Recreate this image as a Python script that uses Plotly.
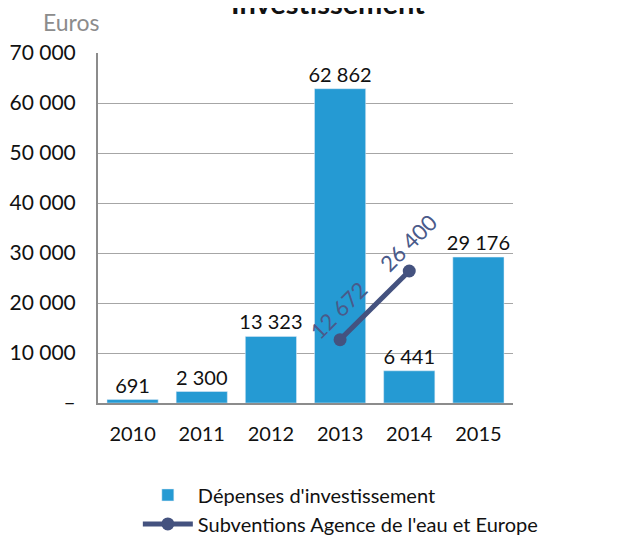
import plotly.graph_objects as go

years = [2010, 2011, 2012, 2013, 2014, 2015]
depenses = [691, 2300, 13323, 62862, 6441, 29176]
subv_years = [2013, 2014]
subventions = [12672, 26400]
ytick_vals = [0, 10000, 20000, 30000, 40000, 50000, 60000, 70000]
ytick_text = ["–", "10 000", "20 000", "30 000", "40 000", "50 000", "60 000", "70 000"]

FONT = "Lato"
BAR = "#259ad3"
LINE = "#44527f"


def fr(v):
    # French thousands separator
    return f"{v:,}".replace(",", " ")


fig = go.Figure()
fig.add_trace(go.Bar(
    x=years, y=depenses, name="Dépenses d'investissement", width=0.74,
    marker=dict(color=BAR), text=[fr(v) for v in depenses], textposition="outside",
    constraintext="none", cliponaxis=False,
    textfont=dict(family=FONT, size=20, color="#111111"),
))
fig.add_trace(go.Scatter(
    x=subv_years, y=subventions, name="Subventions Agence de l'eau et Europe",
    mode="lines+markers", line=dict(color=LINE, width=5),
    marker=dict(color=LINE, size=13),
))

# rotated labels along the line
for (x, y, dx, dy) in zip(subv_years, subventions, [-2, -1], [29, 29]):
    fig.add_annotation(x=x, y=y, text=fr(y), textangle=-45,
                       showarrow=False, xshift=dx, yshift=dy,
                       font=dict(family=FONT, size=22, color="#4a5a8a"))

fig.add_annotation(xref="paper", yref="paper", x=0.554, y=1.144, yanchor="middle",
                   text="<b>Investissement</b>", showarrow=False,
                   font=dict(family=FONT, size=29, color="#111111"))
fig.add_annotation(xref="paper", yref="paper", x=-0.063, y=1.088, text="Euros",
                   xanchor="center", yanchor="middle", showarrow=False,
                   font=dict(family=FONT, size=23, color="#8c8c8c"))

fig.update_layout(
    width=630, height=547, margin=dict(l=90, r=125, t=45, b=150),
    plot_bgcolor="white", paper_bgcolor="white",
    font=dict(family=FONT, size=20, color="#111111"),
    legend=dict(orientation="v", x=0.096, xanchor="left", y=-0.207, yanchor="top",
                font=dict(family=FONT, size=20, color="#111111"), itemwidth=50,
                tracegroupgap=25),
)
fig.update_xaxes(type="linear", range=[2009.5, 2015.5], tickmode="array",
                 tickvals=years, ticktext=[str(y) for y in years], automargin=False,
                 ticklabelstandoff=12,
                 showline=True, linecolor="#8c8c8c", linewidth=2,
                 ticks="", showgrid=False, tickfont=dict(size=20))
fig.update_yaxes(range=[0, 70000], tickvals=ytick_vals, ticktext=ytick_text,
                 automargin=False, ticklabelstandoff=16,
                 showgrid=True, gridcolor="#a6a6a6", gridwidth=1,
                 showline=True, linecolor="#8c8c8c", linewidth=2, zeroline=False,
                 ticks="", tickfont=dict(size=21))

fig.write_html("out.html")
